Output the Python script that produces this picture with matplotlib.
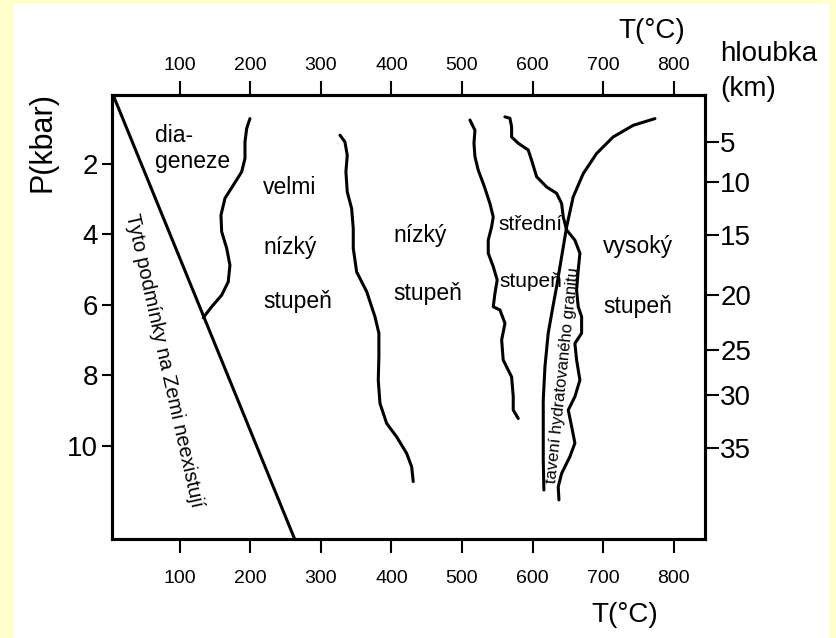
import matplotlib
matplotlib.use('Agg')
import matplotlib.pyplot as plt
from matplotlib.patches import Rectangle

plt.rcParams['font.family'] = ['Liberation Sans', 'DejaVu Sans']

# osy
t_ticks = [100, 200, 300, 400, 500, 600, 700, 800]
p_ticks = [2, 4, 6, 8, 10]
depth_km = [5, 10, 15, 20, 25, 30, 35]
depth_P = [1.38, 2.51, 4.03, 5.73, 7.28, 8.57, 10.07]

# hranice "neexistujících" podmínek
limit_T = [5, 263]
limit_P = [0.0, 12.65]

# diageneze / velmi nízký stupeň
diag_T = [199.7, 195.1, 192.7, 192.7, 188.0, 176.1, 164.4, 158.7, 159.7,
          166.8, 171.4, 169.0, 159.7, 145.5, 133.6]
diag_P = [0.72, 1.00, 1.38, 1.85, 2.23, 2.61, 2.98, 3.46, 3.93,
          4.40, 4.88, 5.35, 5.73, 6.06, 6.37]

# velmi nízký / nízký
low_T = [327.2, 334.2, 337.5, 335.6, 337.5, 343.7, 346.0, 346.0, 350.8, 365.0,
         376.7, 382.3, 382.3, 381.4, 383.8, 393.3, 407.4, 421.6, 428.7, 430.9]
low_P = [1.19, 1.38, 1.76, 2.23, 2.80, 3.27, 3.84, 4.40, 5.07, 5.63,
         6.34, 6.81, 7.48, 8.14, 8.80, 9.37, 9.75, 10.22, 10.60, 11.02]

# nízký / střední
mid_T = [511.2, 518.3, 516.9, 518.3, 522.9, 530.0, 534.8, 539.5, 544.2, 541.9,
         537.1, 537.1, 544.2, 549.8, 546.6, 544.2, 553.7, 560.8, 556.1, 558.3,
         570.2, 572.5, 572.5, 579.6]
mid_P = [0.76, 1.05, 1.42, 1.80, 2.18, 2.56, 2.84, 3.13, 3.51, 3.79,
         4.17, 4.54, 4.92, 5.30, 5.68, 6.06, 6.15, 6.53, 7.00, 7.57,
         8.05, 8.61, 8.99, 9.23]

# střední / vysoký
high_T = [560.7, 567.8, 570.2, 570.2, 579.6, 593.7, 598.5, 605.6, 619.8, 633.9,
          641.0, 643.3, 648.1, 659.8, 666.9, 664.5, 662.2, 664.5, 669.3, 669.3,
          659.8, 662.2, 666.9, 659.8, 650.4, 655.2, 659.8, 652.8, 641.0, 636.2,
          637.2]
high_P = [0.67, 0.71, 0.95, 1.24, 1.42, 1.61, 1.90, 2.37, 2.66, 2.84,
          3.13, 3.51, 3.88, 4.17, 4.54, 5.02, 5.59, 6.06, 6.34, 6.81,
          7.10, 7.57, 8.14, 8.61, 8.99, 9.46, 9.93, 10.31, 10.79, 11.17,
          11.54]

# tavení hydratovaného granitu
melt_T = [773.1, 742.4, 714.0, 690.5, 671.6, 657.4, 648.1, 641.0, 633.9,
          629.1, 622.0, 617.4, 615.0, 615.0, 615.0, 615.9]
melt_P = [0.72, 0.91, 1.24, 1.71, 2.28, 2.94, 3.79, 4.64, 5.49,
          6.01, 6.81, 7.76, 8.71, 9.65, 10.41, 11.26]

W, H = 836, 638
fig = plt.figure(figsize=(W / 100, H / 100), dpi=100, facecolor='#FFFFCC')
fig.add_artist(Rectangle((14 / W, 0), 816 / W, 634 / H, transform=fig.transFigure,
                         facecolor='white', edgecolor='none', zorder=-10))

ax = fig.add_axes([111.7 / W, 1 - 539 / H, (705 - 111.7) / W, (539 - 95) / H])
ax.set_xlim(4, 844)
ax.set_ylim(12.65, 0.05)

lw = 2.2
for xs, ys in [(limit_T, limit_P), (diag_T, diag_P), (low_T, low_P),
               (mid_T, mid_P), (high_T, high_P), (melt_T, melt_P)]:
    ax.plot(xs, ys, color='black', lw=lw, solid_capstyle='round',
            solid_joinstyle='round')

ax.set_xticks(t_ticks)
ax.set_yticks(p_ticks)
ax.tick_params(axis='x', length=10, width=1.5, pad=12, labelsize=14)
ax.tick_params(axis='y', length=7, width=1.5, pad=3, labelsize=20)
for s in ax.spines.values():
    s.set_linewidth(lw)

top = ax.secondary_xaxis('top')
top.set_xticks(t_ticks)
top.tick_params(length=10, width=1.5, pad=5, labelsize=14)
top.spines['top'].set_linewidth(lw)

ax2 = ax.twinx()
ax2.set_ylim(ax.get_ylim())
ax2.set_yticks(depth_P, labels=[str(d) for d in depth_km])
ax2.tick_params(axis='y', length=10, width=1.5, pad=1, labelsize=20)
for s in ax2.spines.values():
    s.set_linewidth(lw)

# popisky oblastí
fs, fs_small = 16.5, 15
labels = [
    (65.3, 1.38, 'dia-', fs), (65.3, 2.12, 'geneze', fs),
    (218.2, 2.87, 'velmi', fs), (218.2, 4.57, 'nízký', fs),
    (218.2, 6.10, 'stupeň', fs),
    (402.2, 4.22, 'nízký', fs), (402.2, 5.87, 'stupeň', fs),
    (552.2, 3.88, 'střední', fs_small), (553.6, 5.49, 'stupeň', fs_small),
    (699.4, 4.54, 'vysoký', fs), (699.4, 6.24, 'stupeň', fs),
]
for x, y, s, size in labels:
    ax.text(x, y, s, fontsize=size)

ax.text(78, 7.59, 'Tyto podmínky na Zemi neexistují', fontsize=14.5,
        rotation=-77.4, rotation_mode='anchor', ha='center', va='center')
ax.text(642.8, 8.0, 'tavení hydratovaného granitu', fontsize=12,
        rotation=84, rotation_mode='anchor', ha='center', va='center')

# popisky os
fig.text(42.7 / W, 1 - 141.7 / H, 'P(kbar)', fontsize=22, rotation=90,
         ha='center', va='center')
fig.text(652 / W, 1 - 31 / H, 'T(°C)', fontsize=20, ha='center', va='center')
fig.text(624.5 / W, 1 - 614.7 / H, 'T(°C)', fontsize=20, ha='center', va='center')
fig.text(720 / W, 1 - 54 / H, 'hloubka', fontsize=20, ha='left', va='center')
fig.text(720 / W, 1 - 89 / H, '(km)', fontsize=20, ha='left', va='center')

fig.savefig('out.png', dpi=100, facecolor=fig.get_facecolor())
